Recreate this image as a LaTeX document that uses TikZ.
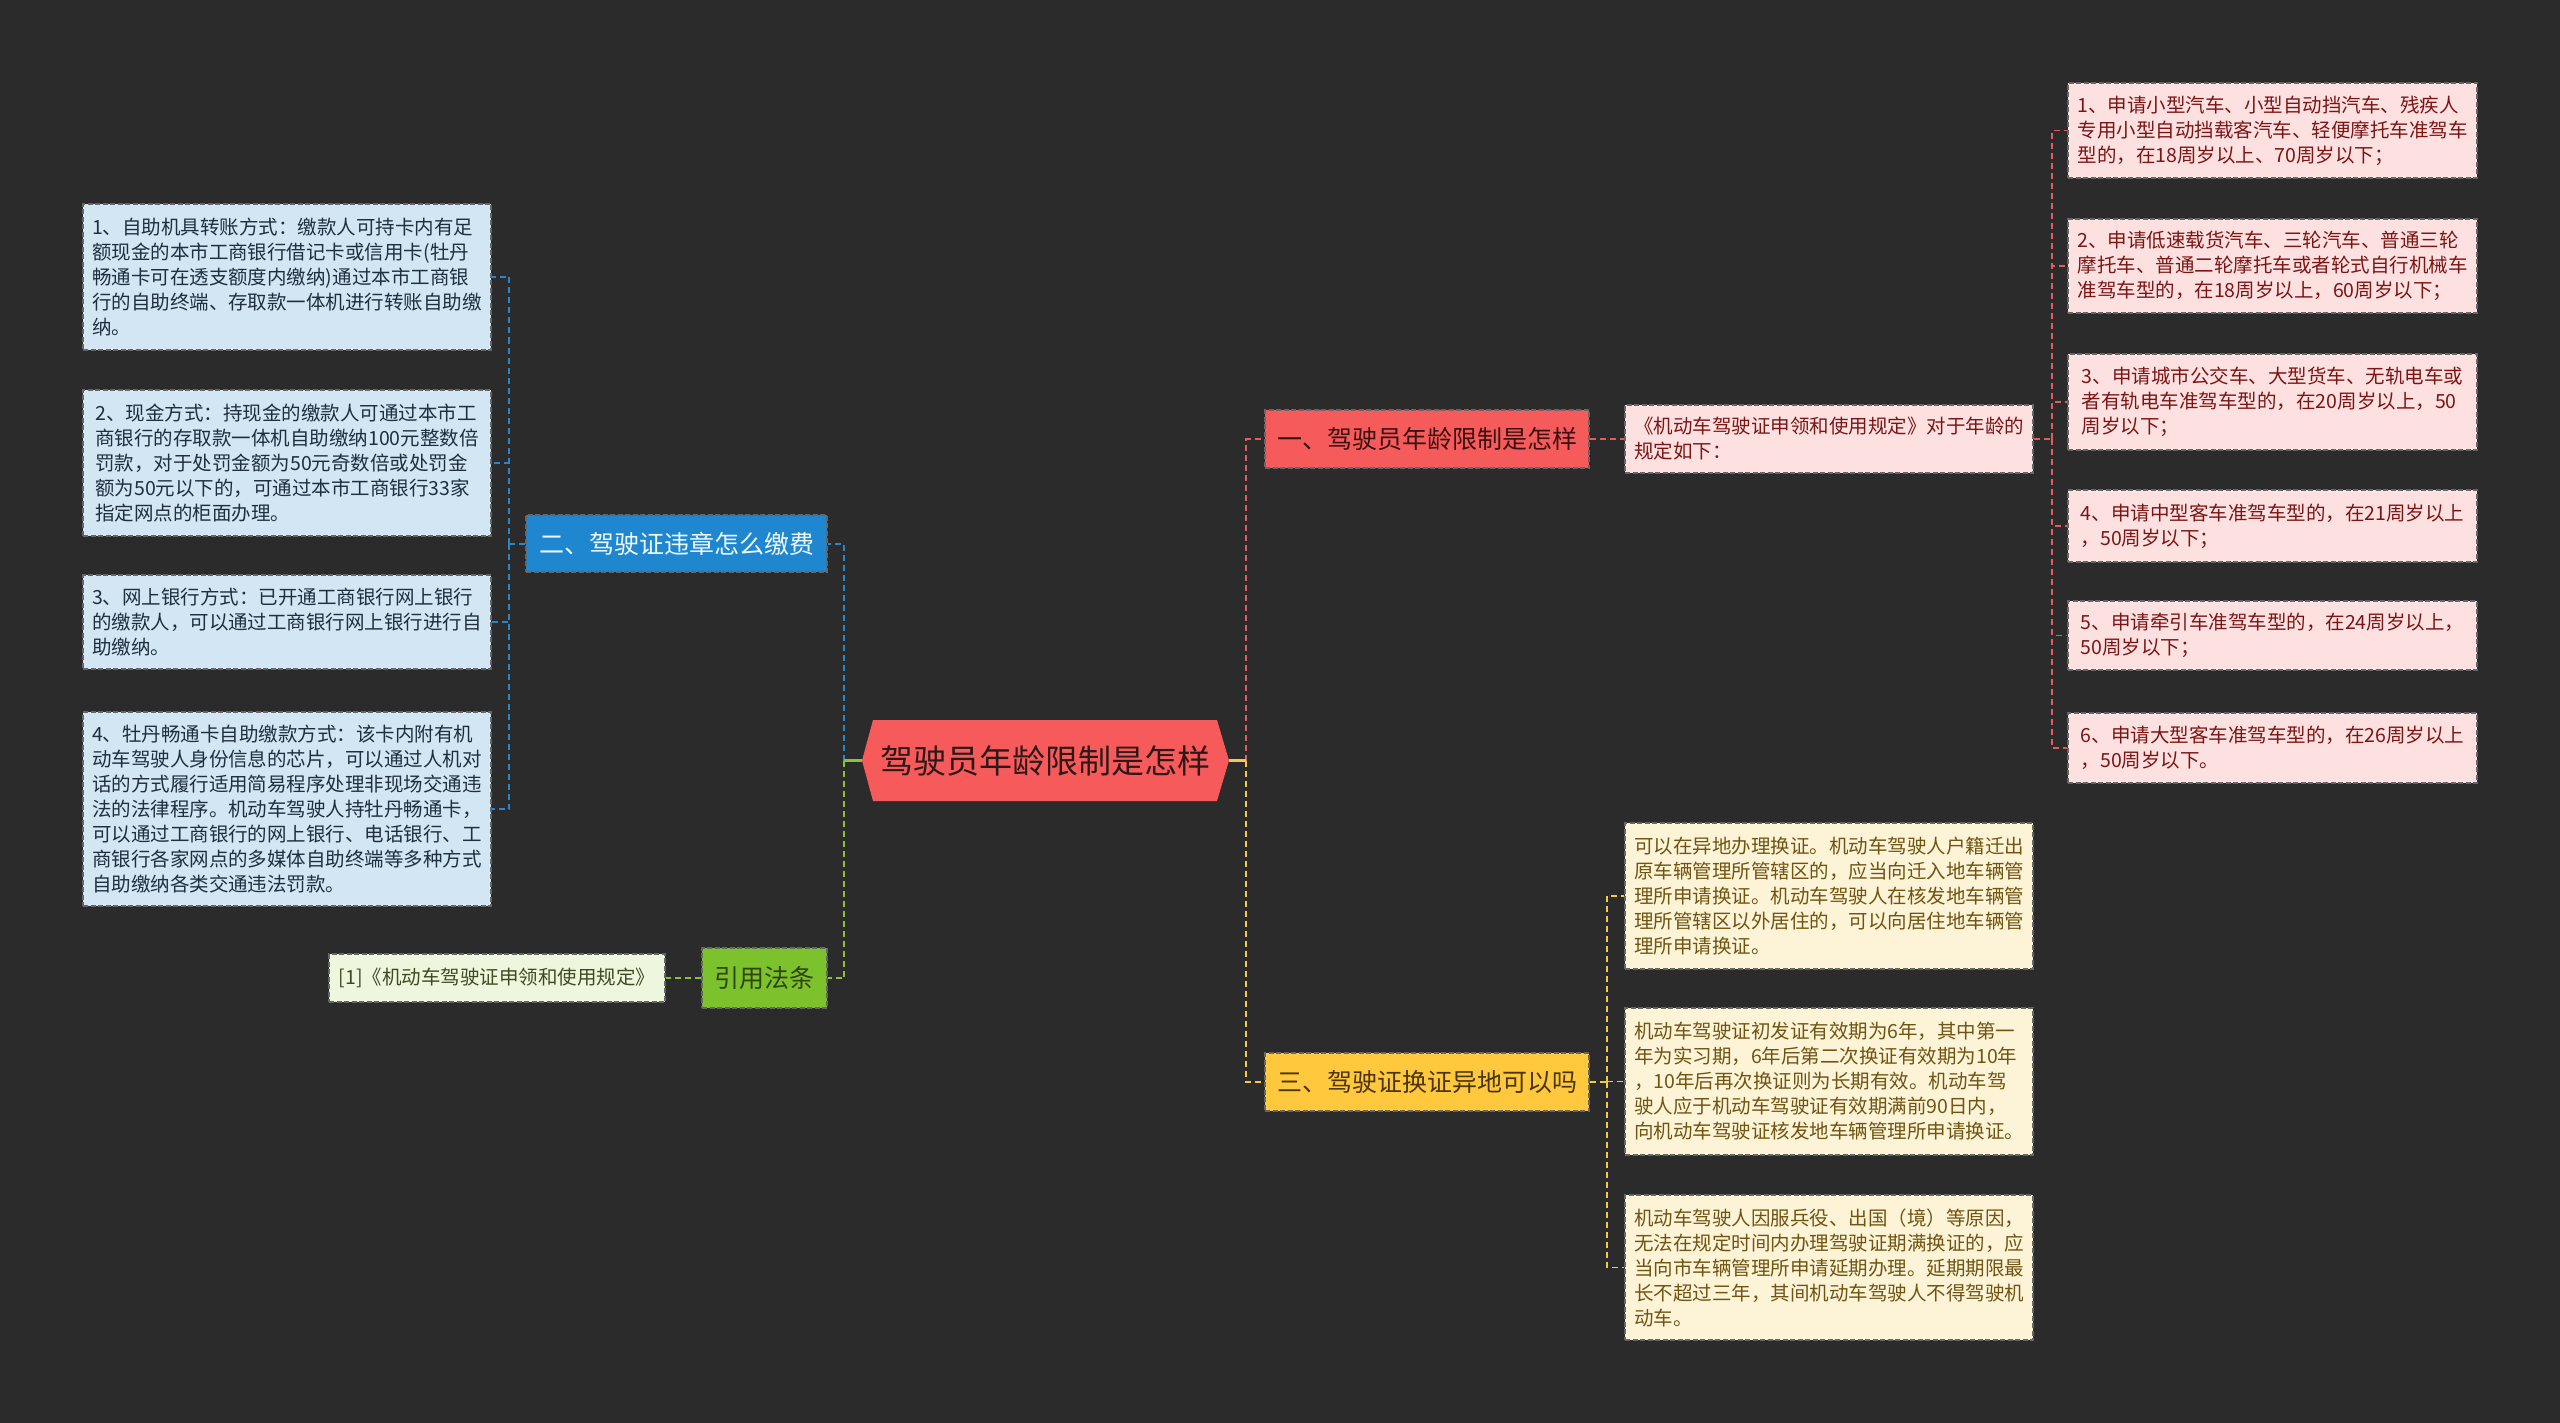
\documentclass[tikz,border=0pt]{standalone}
\usepackage{fontspec}
\setmainfont{Noto Sans CJK SC}
\definecolor{bg}{HTML}{2B2B2B}
\definecolor{centfill}{HTML}{F65A5B}
\definecolor{centtext}{HTML}{2E1818}
\definecolor{redfill}{HTML}{F55B5B}
\definecolor{redtext}{HTML}{3A1010}
\definecolor{pinkfill}{HTML}{FDE1E1}
\definecolor{pinktext}{HTML}{7B1515}
\definecolor{bluefill}{HTML}{1E87CF}
\definecolor{bluetext}{HTML}{F0F8FF}
\definecolor{lbluefill}{HTML}{D2E6F4}
\definecolor{lbluetext}{HTML}{1F2F3F}
\definecolor{greenfill}{HTML}{7CC22C}
\definecolor{greentext}{HTML}{2F4410}
\definecolor{lgreenfill}{HTML}{EFF6DE}
\definecolor{lgreentext}{HTML}{3D4A25}
\definecolor{yellowfill}{HTML}{FFC83D}
\definecolor{yellowtext}{HTML}{4A3508}
\definecolor{lyellowfill}{HTML}{FDF4D7}
\definecolor{lyellowtext}{HTML}{6F5412}
\definecolor{cred}{HTML}{E25E5E}
\definecolor{cblue}{HTML}{2A86CB}
\definecolor{cgreen}{HTML}{86C23A}
\definecolor{cyellow}{HTML}{F3C94A}
\begin{document}
\begin{tikzpicture}[x=1pt,y=-1pt,
  boxborder/.style={draw=black!60, line width=1.2pt, dash pattern=on 5pt off 2.5pt},
  leafbox/.style={boxborder, align=left, inner xsep=9pt, inner ysep=5pt,
    font=\fontsize{19.5}{25}\selectfont},
  lblue/.style={leafbox, fill=lbluefill, text=lbluetext, minimum width=408pt},
  pinkbox/.style={leafbox, fill=pinkfill, text=pinktext, minimum width=409pt},
  ylwbox/.style={leafbox, fill=lyellowfill, text=lyellowtext, minimum width=408pt},
  lgreen/.style={leafbox, fill=lgreenfill, text=lgreentext, minimum width=336pt, minimum height=48pt},
  branch/.style={boxborder, align=center, inner sep=0pt, minimum height=58pt,
    font=\fontsize{25}{30}\selectfont},
  con/.style={line width=2pt, dash pattern=on 6pt off 4pt},
  stub/.style={line width=2.2pt}
]
\useasboundingbox (0,0) rectangle (2560,1423);
\fill[bg] (0,0) rectangle (2560,1423);

% central node
\fill[centfill] (862,760.5) -- (873,720) -- (1217,720) -- (1229,760.5) -- (1217,801) -- (873,801) -- cycle;
\node[text=centtext, font=\fontsize{33}{38}\selectfont, inner sep=0pt] (c) at (1045,760.5) {驾驶员年龄限制是怎样};
\coordinate (cL) at (862,760.5);
\coordinate (cR) at (1229,760.5);
\coordinate (jl) at (844,760.5);
\coordinate (jr) at (1246,760.5);

% branches
\node[branch, fill=bluefill, text=bluetext, minimum width=301pt, minimum height=57pt] (b2) at (676.5,543.5) {二、驾驶证违章怎么缴费};
\node[branch, fill=greenfill, text=greentext, minimum width=125pt, minimum height=60pt] (bref) at (764.5,978) {引用法条};
\node[branch, fill=redfill, text=redtext, minimum width=324pt] (b1) at (1427,439) {一、驾驶员年龄限制是怎样};
\node[branch, fill=yellowfill, text=yellowtext, minimum width=324pt] (b3) at (1427,1082) {三、驾驶证换证异地可以吗};

% left blue leaves
\node[lblue, minimum height=146pt] (l1) at (287,277) {1、自助机具转账方式：缴款人可持卡内有足\\额现金的本市工商银行借记卡或信用卡(牡丹\\畅通卡可在透支额度内缴纳)通过本市工商银\\行的自助终端、存取款一体机进行转账自助缴\\纳。};
\node[lblue, minimum height=146pt] (l2) at (287,463) {2、现金方式：持现金的缴款人可通过本市工\\商银行的存取款一体机自助缴纳100元整数倍\\罚款，对于处罚金额为50元奇数倍或处罚金\\额为50元以下的，可通过本市工商银行33家\\指定网点的柜面办理。};
\node[lblue, minimum height=94pt] (l3) at (287,622) {3、网上银行方式：已开通工商银行网上银行\\的缴款人，可以通过工商银行网上银行进行自\\助缴纳。};
\node[lblue, minimum height=194pt] (l4) at (287,809) {4、牡丹畅通卡自助缴款方式：该卡内附有机\\动车驾驶人身份信息的芯片，可以通过人机对\\话的方式履行适用简易程序处理非现场交通违\\法的法律程序。机动车驾驶人持牡丹畅通卡，\\可以通过工商银行的网上银行、电话银行、工\\商银行各家网点的多媒体自助终端等多种方式\\自助缴纳各类交通违法罚款。};

% reference leaf
\node[lgreen] (g1) at (497,978) {[1]《机动车驾驶证申领和使用规定》};

% note for branch 1
\node[pinkbox, minimum width=408pt, minimum height=68pt] (n1) at (1829,439) {《机动车驾驶证申领和使用规定》对于年龄的\\规定如下：};

% right pink leaves
\node[pinkbox, minimum height=95pt] (r1) at (2272.5,130.5) {1、申请小型汽车、小型自动挡汽车、残疾人\\专用小型自动挡载客汽车、轻便摩托车准驾车\\型的，在18周岁以上、70周岁以下；};
\node[pinkbox, minimum height=94pt] (r2) at (2272.5,266) {2、申请低速载货汽车、三轮汽车、普通三轮\\摩托车、普通二轮摩托车或者轮式自行机械车\\准驾车型的，在18周岁以上，60周岁以下；};
\node[pinkbox, minimum height=96pt] (r3) at (2272.5,402) {3、申请城市公交车、大型货车、无轨电车或\\者有轨电车准驾车型的，在20周岁以上，50\\周岁以下；};
\node[pinkbox, minimum height=72pt] (r4) at (2272.5,526) {4、申请中型客车准驾车型的，在21周岁以上\\，50周岁以下；};
\node[pinkbox, minimum height=69pt] (r5) at (2272.5,635.5) {5、申请牵引车准驾车型的，在24周岁以上，\\50周岁以下；};
\node[pinkbox, minimum height=70pt] (r6) at (2272.5,748) {6、申请大型客车准驾车型的，在26周岁以上\\，50周岁以下。};

% yellow leaves
\node[ylwbox, minimum height=146pt] (y1) at (1829,896) {可以在异地办理换证。机动车驾驶人户籍迁出\\原车辆管理所管辖区的，应当向迁入地车辆管\\理所申请换证。机动车驾驶人在核发地车辆管\\理所管辖区以外居住的，可以向居住地车辆管\\理所申请换证。};
\node[ylwbox, minimum height=147pt] (y2) at (1829,1081.5) {机动车驾驶证初发证有效期为6年，其中第一\\年为实习期，6年后第二次换证有效期为10年\\，10年后再次换证则为长期有效。机动车驾\\驶人应于机动车驾驶证有效期满前90日内，\\向机动车驾驶证核发地车辆管理所申请换证。};
\node[ylwbox, minimum height=145pt] (y3) at (1829,1267.5) {机动车驾驶人因服兵役、出国（境）等原因，\\无法在规定时间内办理驾驶证期满换证的，应\\当向市车辆管理所申请延期办理。延期期限最\\长不超过三年，其间机动车驾驶人不得驾驶机\\动车。};

% connectors: central
\draw[con, cblue] (jl) |- (b2.east);
\draw[con, cgreen] (jl) |- (bref.east);
\draw[stub, cgreen] (cL) -- (jl);
\draw[con, cred] (jr) |- (b1.west);
\draw[con, cyellow] (jr) |- (b3.west);
\draw[stub, cyellow] (cR) -- (jr);

% branch 2 to blue leaves
\coordinate (bt) at (509,543.5);
\draw[con, cblue] (b2.west) -- (bt);
\foreach \n in {l1,l2,l3,l4} { \draw[con, cblue, line width=1.5pt] (bt) |- (\n.east); }

% reference
\draw[con, cgreen] (bref.west) -- (g1.east);

% branch 1
\draw[con, cred] (b1.east) -- (n1.west);
\coordinate (rt) at (2052,439);
\draw[con, cred] (n1.east) -- (rt);
\foreach \n in {r1,r2,r3,r4,r5,r6} { \draw[con, cred, line width=1.5pt] (rt) |- (\n.west); }

% branch 3
\coordinate (yt) at (1607,1082);
\draw[con, cyellow] (b3.east) -- (yt);
\foreach \n in {y1,y2,y3} { \draw[con, cyellow, line width=1.5pt] (yt) |- (\n.west); }
\end{tikzpicture}
\end{document}
